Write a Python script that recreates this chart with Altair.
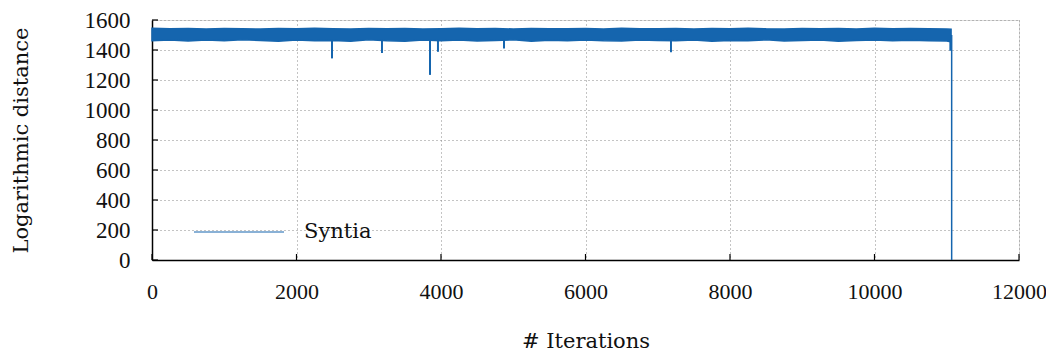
import altair as alt
import pandas as pd

# ---- data ----
band_x = [0, 250, 500, 750, 1000, 1250, 1500, 1750, 2000, 2250, 2500, 2750,
          3000, 3250, 3500, 3750, 4000, 4250, 4500, 4750, 5000, 5250, 5500, 5750,
          6000, 6250, 6500, 6750, 7000, 7250, 7500, 7750, 8000, 8250, 8500, 8750,
          9000, 9250, 9500, 9750, 10000, 10250, 10500, 10750, 11000, 11060]
band_hi = [1545, 1541, 1543, 1540, 1544, 1542, 1540, 1543, 1541, 1545, 1542, 1540,
           1543, 1541, 1544, 1540, 1542, 1545, 1541, 1543, 1540, 1544, 1542, 1541,
           1543, 1540, 1545, 1542, 1541, 1544, 1540, 1543, 1542, 1545, 1541, 1540,
           1544, 1542, 1543, 1540, 1545, 1541, 1543, 1542, 1540, 1538]
band_lo = [1462, 1467, 1460, 1466, 1461, 1468, 1463, 1458, 1467, 1461, 1464, 1459,
           1468, 1462, 1459, 1466, 1462, 1467, 1460, 1464, 1468, 1459, 1465, 1461,
           1467, 1462, 1460, 1467, 1463, 1461, 1466, 1458, 1464, 1462, 1468, 1460,
           1464, 1467, 1459, 1463, 1467, 1461, 1465, 1462, 1460, 1455]

spike_x = [2491, 3183, 3848, 3958, 4872, 7183, 11050]
spike_top = [1470, 1470, 1470, 1470, 1470, 1470, 1470]
spike_min = [1344, 1380, 1234, 1388, 1410, 1385, 1395]

drop_x = [11068]
drop_top = [1500]
drop_min = [0]

x_ticks = [0, 2000, 4000, 6000, 8000, 10000, 12000]
y_ticks = [0, 200, 400, 600, 800, 1000, 1200, 1400, 1600]

series_name = "Syntia"
COLOR = "#1565ae"
FONT = "Liberation Serif"
TFONT = "DejaVu Serif"
W, H = 867, 240

band = pd.DataFrame({"x": band_x, "hi": band_hi, "lo": band_lo, "s": series_name})
spikes = pd.DataFrame({"x": spike_x, "top": spike_top, "lo": spike_min, "s": series_name})
drop = pd.DataFrame({"x": drop_x, "top": drop_top, "lo": drop_min, "s": series_name})
xt = pd.DataFrame({"x": x_ticks})
yt = pd.DataFrame({"y": y_ticks})

xscale = alt.Scale(domain=[0, 12000], nice=False)
yscale = alt.Scale(domain=[0, 1600], nice=False)

xaxis = alt.Axis(values=x_ticks, format="d", grid=True, gridDash=[1, 3],
                 gridColor="#888", gridWidth=1, ticks=False, domain=True,
                 domainColor="black", domainWidth=1.5, labelFont=FONT,
                 labelFontSize=22, labelColor="#111", labelPadding=21,
                 labelOverlap=False, labelFlush=False,
                 title="# Iterations", titleFont=TFONT, titleFontSize=21,
                 titleFontWeight="normal", titleColor="#111", titleX=W / 2,
                 titleY=81, titleBaseline="middle")
yaxis = alt.Axis(values=y_ticks, format="d", grid=True, gridDash=[1, 3],
                 gridColor="#888", gridWidth=1, ticks=False, domain=True,
                 domainColor="black", domainWidth=1.5, labelFont=FONT,
                 labelFontSize=23, labelColor="#111", labelPadding=22,
                 labelOverlap=False, labelFlush=False,
                 title="Logarithmic distance", titleFont=TFONT, titleFontSize=21,
                 titleFontWeight="normal", titleColor="#111", titleX=-131,
                 titleY=H / 2, titleAngle=-90, titleBaseline="middle")

X = lambda f: alt.X(f, scale=xscale, axis=xaxis)
Y = lambda f: alt.Y(f, scale=yscale, axis=yaxis)

color = alt.Color("s:N", scale=alt.Scale(domain=[series_name], range=[COLOR]),
                  legend=alt.Legend(title=None, orient="none", legendX=41, legendY=166,
                                    symbolType="stroke", symbolSize=8100,
                                    symbolStrokeWidth=1.2, labelFont=TFONT,
                                    labelFontSize=21, labelColor="#111",
                                    labelOffset=19, padding=0))

area = alt.Chart(band).mark_area(color=COLOR, stroke=COLOR, strokeWidth=1.5).encode(
    x=X("x:Q"), y=Y("hi:Q"), y2="lo:Q",
)

spike = alt.Chart(spikes).mark_rule(strokeWidth=2).encode(
    x=X("x:Q"), y=Y("top:Q"), y2="lo:Q", color=color,
)

dropc = alt.Chart(drop).mark_rule(strokeWidth=1.5, color=COLOR).encode(
    x=X("x:Q"), y=Y("top:Q"), y2="lo:Q",
)

xtick = alt.Chart(xt).mark_rule(color="black", strokeWidth=1.2).encode(
    x=X("x:Q"), y=alt.value(H), y2=alt.value(H - 6),
)
ytick = alt.Chart(yt).mark_rule(color="black", strokeWidth=1.2).encode(
    y=Y("y:Q"), x=alt.value(0), x2=alt.value(6),
)

chart = alt.layer(area, spike, dropc, xtick, ytick).properties(
    width=W, height=H,
    autosize=alt.AutoSizeParams(type="none"),
    padding={"left": 144, "top": 12, "right": 27, "bottom": 92},
).configure_view(stroke=None).configure(background="white")

chart.save("out.html", embed_options={"renderer": "svg", "actions": False})
